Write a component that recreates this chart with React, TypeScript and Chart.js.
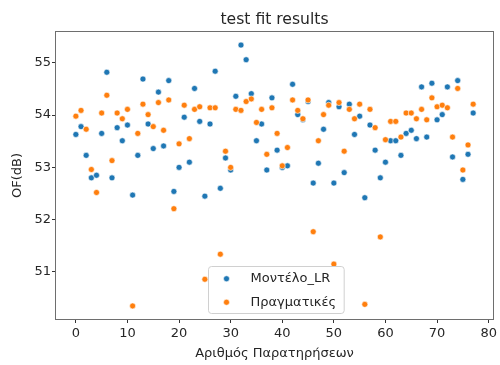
import React, { useEffect, useRef } from "react";
import { Chart, registerables } from "chart.js";

Chart.register(...registerables);

// Model predictions (linear regression) per observation
const modelLR = [
  53.63, 53.78, 53.23, 52.8, 52.85, 53.65, 54.82, 52.8, 53.76, 53.51,
  53.81, 52.47, 53.23, 54.69, 53.83, 53.36, 54.44, 53.41, 54.66, 52.54,
  53.0, 53.96, 53.1, 54.51, 53.88, 52.45, 53.83, 54.84, 52.6, 53.18,
  52.95, 54.36, 55.34, 55.06, 54.41, 53.51, 53.83, 52.95, 54.33, 53.33,
  53.0, 53.03, 54.59, 54.01, 53.91, 54.26, 52.7, 53.08, 53.73, 54.24,
  52.7, 54.16, 52.9, 54.21, 53.63, 53.98, 52.42, 53.81, 53.33, 52.8,
  53.1, 53.51, 53.51, 53.23, 53.65, 53.71, 53.55, 54.54, 53.58, 54.61,
  53.91, 54.01, 54.54, 53.2, 54.66, 52.77, 53.25, 54.04,
];

// Measured values per observation
const actual = [
  53.98, 54.09, 53.73, 52.96, 52.52, 54.04, 54.38, 53.13, 54.04, 53.93,
  54.11, 50.35, 53.65, 54.21, 54.01, 53.78, 54.24, 53.71, 54.29, 52.21,
  53.45, 54.19, 53.55, 54.11, 54.16, 50.86, 54.14, 54.14, 51.34, 53.31,
  53.0, 54.11, 54.09, 54.26, 54.31, 53.86, 54.11, 53.25, 54.14, 53.65,
  53.03, 53.38, 54.29, 54.09, 53.93, 54.29, 51.77, 53.51, 54.01, 54.19,
  51.15, 54.24, 53.31, 54.11, 53.93, 54.21, 50.38, 54.11, 53.76, 51.67,
  53.53, 53.88, 53.88, 53.58, 54.04, 54.04, 53.93, 54.11, 53.91, 54.33,
  54.16, 54.19, 54.14, 53.58, 54.51, 52.95, 53.43, 54.21,
];

const observationIndex = modelLR.map((_, i) => i);

const xTickValues = [0, 10, 20, 30, 40, 50, 60, 70, 80];
const yTickValues = [51, 52, 53, 54, 55];

const seriesLabels = ["Μοντέλο_LR", "Πραγματικές"];
const seriesColors = ["#1f77b4", "#ff7f0e"];

const FONT = "'DejaVu Sans', sans-serif";
const TEXT = "#262626";

// Frame around the plotting area
const framePlugin = {
  id: "frame",
  afterDatasetsDraw(chart: any) {
    const { ctx, chartArea: a } = chart;
    ctx.save();
    ctx.strokeStyle = "#6e6e6e";
    ctx.lineWidth = 1;
    ctx.strokeRect(
      Math.round(a.left) - 0.5,
      Math.round(a.top) - 0.5,
      Math.round(a.right - a.left) + 1,
      Math.round(a.bottom - a.top) + 1
    );
    ctx.restore();
  },
};

// Legend box placed inside the plot, at the bottom centre
const innerLegendPlugin = {
  id: "innerLegend",
  afterDraw(chart: any) {
    const { ctx, chartArea: a } = chart;
    const ds = chart.data.datasets;
    const fontSize = 13;
    ctx.save();
    ctx.font = `${fontSize}px ${FONT}`;
    const textW = Math.max(...ds.map((d: any) => ctx.measureText(d.label).width));
    const rowH = 23.5;
    const padX = 8;
    const markerGap = 24;
    const w = padX + 10 + markerGap + textW + 8;
    const h = ds.length * rowH;
    const cx = (a.left + a.right) / 2 + 1;
    const x0 = Math.round(cx - w / 2) + 0.5;
    const y0 = Math.round(a.bottom - 6 - h) + 0.5;
    const r = 3;
    ctx.beginPath();
    ctx.moveTo(x0 + r, y0);
    ctx.lineTo(x0 + w - r, y0);
    ctx.quadraticCurveTo(x0 + w, y0, x0 + w, y0 + r);
    ctx.lineTo(x0 + w, y0 + h - r);
    ctx.quadraticCurveTo(x0 + w, y0 + h, x0 + w - r, y0 + h);
    ctx.lineTo(x0 + r, y0 + h);
    ctx.quadraticCurveTo(x0, y0 + h, x0, y0 + h - r);
    ctx.lineTo(x0, y0 + r);
    ctx.quadraticCurveTo(x0, y0, x0 + r, y0);
    ctx.closePath();
    ctx.fillStyle = "rgba(255,255,255,0.8)";
    ctx.fill();
    ctx.strokeStyle = "#d0d0d0";
    ctx.lineWidth = 1;
    ctx.stroke();
    ds.forEach((d: any, i: number) => {
      const yc = y0 + rowH * (i + 0.5) + 0.5;
      const mx = x0 + padX + 10;
      ctx.beginPath();
      ctx.arc(mx, yc, 3, 0, Math.PI * 2);
      ctx.fillStyle = d.backgroundColor;
      ctx.fill();
      ctx.strokeStyle = "#fff";
      ctx.lineWidth = 0.6;
      ctx.stroke();
      ctx.fillStyle = TEXT;
      ctx.textBaseline = "middle";
      ctx.textAlign = "left";
      ctx.fillText(d.label, mx + markerGap, yc);
    });
    ctx.restore();
  },
};

export default function App() {
  const canvasRef = useRef<HTMLCanvasElement | null>(null);

  useEffect(() => {
    const canvas = canvasRef.current;
    if (!canvas) return;
    const makeData = (vals: number[]) =>
      vals.map((v, i) => ({ x: observationIndex[i], y: v }));

    const chart = new Chart(canvas, {
      type: "scatter",
      data: {
        datasets: [
          {
            label: seriesLabels[0],
            data: makeData(modelLR),
            backgroundColor: seriesColors[0],
            borderColor: "#ffffff",
            borderWidth: 0.6,
            pointRadius: 3,
            order: 1,
          },
          {
            label: seriesLabels[1],
            data: makeData(actual),
            backgroundColor: seriesColors[1],
            borderColor: "#ffffff",
            borderWidth: 0.6,
            pointRadius: 3,
            order: 0,
          },
        ],
      },
      options: {
        responsive: false,
        animation: false,
        devicePixelRatio: 1,
        layout: { padding: { left: 0, right: 3, top: 0, bottom: 0 } },
        font: { family: FONT },
        plugins: {
          legend: { display: false },
          tooltip: { enabled: false },
          title: {
            display: true,
            text: "test fit results",
            fullSize: false,
            color: TEXT,
            font: { family: FONT, size: 15.6, weight: "normal", lineHeight: 1.2 },
            padding: { top: 11, bottom: 2.28 },
          },
        },
        scales: {
          x: {
            type: "linear",
            min: -3.85,
            max: 80.85,
            afterFit(scale: any) {
              scale.height = 46;
            },
            afterBuildTicks(scale: any) {
              scale.ticks = xTickValues.map((v) => ({ value: v }));
            },
            grid: {
              drawOnChartArea: false,
              drawTicks: true,
              tickLength: 4,
              tickColor: "#333",
            },
            border: { display: false },
            ticks: {
              color: TEXT,
              padding: 3,
              font: { family: FONT, size: 13 },
              maxRotation: 0,
            },
            title: {
              display: true,
              text: "Αριθμός Παρατηρήσεων",
              color: TEXT,
              font: { family: FONT, size: 13 },
              padding: { top: 0, bottom: 4 },
            },
          },
          y: {
            type: "linear",
            min: 50.1,
            max: 55.59,
            afterFit(scale: any) {
              scale.width = 56;
            },
            afterBuildTicks(scale: any) {
              scale.ticks = yTickValues.map((v) => ({ value: v }));
            },
            grid: {
              drawOnChartArea: false,
              drawTicks: true,
              tickLength: 4,
              tickColor: "#333",
            },
            border: { display: false },
            ticks: {
              color: TEXT,
              padding: 1,
              font: { family: FONT, size: 13 },
            },
            title: {
              display: true,
              text: "OF(dB)",
              color: TEXT,
              font: { family: FONT, size: 13 },
              padding: { top: 10, bottom: 0 },
            },
          },
        },
      } as any,
      plugins: [framePlugin, innerLegendPlugin],
    });

    return () => chart.destroy();
  }, []);

  return (
    <div style={{ position: "absolute", left: 0, top: 0, width: 500, height: 365, background: "#fff" }}>
      <canvas ref={canvasRef} width={500} height={365} style={{ display: "block" }} />
    </div>
  );
}
